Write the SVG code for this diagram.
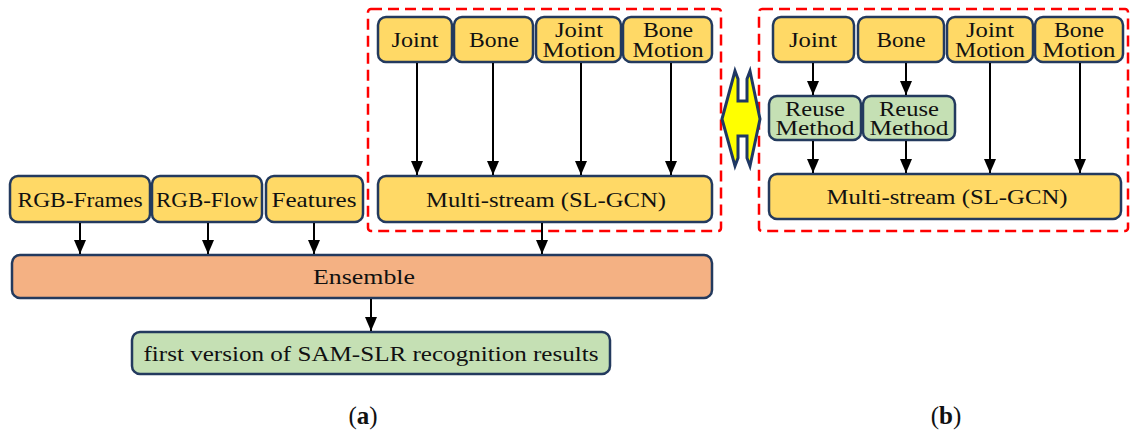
<svg xmlns="http://www.w3.org/2000/svg" width="1131" height="435" viewBox="0 0 1131 435">
<style>
.box{stroke:#233a5e;stroke-width:2.5}
.y{fill:#ffd966}
.o{fill:#f4b183}
.g{fill:#c5e0b4}
.t{font-family:"Liberation Serif","DejaVu Serif",serif;font-size:22px;fill:#111;text-anchor:middle}
.t2{font-family:"Liberation Serif","DejaVu Serif",serif;font-size:21px;fill:#111;text-anchor:middle}
.dash{fill:none;stroke:#f00;stroke-width:2.5;stroke-dasharray:11 6}
.c{stroke:#000;stroke-width:2;fill:none;marker-end:url(#ah)}
.lab{font-family:"Liberation Serif","DejaVu Serif",serif;font-size:25px;fill:#111;text-anchor:middle}
</style>
<defs>
<marker id="ah" markerUnits="userSpaceOnUse" markerWidth="14" markerHeight="12" viewBox="0 0 14 12" refX="14" refY="6" orient="auto">
<path d="M0,0 L14,6 L0,12 Z" fill="#000"/>
</marker>
</defs>
<rect width="1131" height="435" fill="#fff"/>

<g id="groups">
<rect class="dash" x="368" y="9" width="353" height="222" rx="3"/>
<rect class="dash" x="759" y="9" width="369" height="222" rx="3"/>
</g>

<g id="swap">
<path d="M722,119 L735,71 L738,79 L738,101 L747,101 L747,79 L750,71 L760,119 L750,166 L747,158 L747,136 L738,136 L738,158 L735,166 Z" fill="#ffff00" stroke="#1f3864" stroke-width="3" stroke-linejoin="miter"/>
</g>

<g id="a-joint"><rect class="box y" x="378" y="17" width="74" height="45" rx="8"/><text class="t" x="415" y="47" textLength="47" lengthAdjust="spacingAndGlyphs">Joint</text></g>
<g id="a-bone"><rect class="box y" x="454" y="17" width="79" height="45" rx="8"/><text class="t" x="494" y="47" textLength="50" lengthAdjust="spacingAndGlyphs">Bone</text></g>
<g id="a-jm"><rect class="box y" x="536" y="17" width="85" height="45" rx="8"/><text class="t2" x="579" y="37" textLength="48" lengthAdjust="spacingAndGlyphs">Joint</text><text class="t2" x="579" y="57" textLength="73" lengthAdjust="spacingAndGlyphs">Motion</text></g>
<g id="a-bm"><rect class="box y" x="623" y="17" width="89" height="45" rx="8"/><text class="t2" x="668" y="37" textLength="50" lengthAdjust="spacingAndGlyphs">Bone</text><text class="t2" x="668" y="57" textLength="71" lengthAdjust="spacingAndGlyphs">Motion</text></g>
<g id="a-ms"><rect class="box y" x="378" y="176" width="334" height="46" rx="8"/><text class="t" x="546" y="207" textLength="240" lengthAdjust="spacingAndGlyphs">Multi-stream (SL-GCN)</text></g>

<g id="rgbframes"><rect class="box y" x="10" y="176" width="140" height="46" rx="8"/><text class="t" x="80" y="207" textLength="125" lengthAdjust="spacingAndGlyphs">RGB-Frames</text></g>
<g id="rgbflow"><rect class="box y" x="152" y="176" width="110" height="46" rx="8"/><text class="t" x="207" y="207" textLength="102" lengthAdjust="spacingAndGlyphs">RGB-Flow</text></g>
<g id="features"><rect class="box y" x="266" y="176" width="97" height="46" rx="8"/><text class="t" x="314" y="207" textLength="85" lengthAdjust="spacingAndGlyphs">Features</text></g>
<g id="ensemble"><rect class="box o" x="12" y="255" width="700" height="43" rx="8"/><text class="t" x="364" y="284" textLength="102" lengthAdjust="spacingAndGlyphs">Ensemble</text></g>
<g id="result"><rect class="box g" x="132" y="332" width="478" height="42" rx="8"/><text class="t" x="371" y="361" textLength="455" lengthAdjust="spacingAndGlyphs">first version of SAM-SLR recognition results</text></g>

<g id="b-joint"><rect class="box y" x="773" y="17" width="81" height="45" rx="8"/><text class="t" x="813" y="47" textLength="48" lengthAdjust="spacingAndGlyphs">Joint</text></g>
<g id="b-bone"><rect class="box y" x="858" y="17" width="86" height="45" rx="8"/><text class="t" x="901" y="47" textLength="49" lengthAdjust="spacingAndGlyphs">Bone</text></g>
<g id="b-jm"><rect class="box y" x="947" y="17" width="86" height="45" rx="8"/><text class="t2" x="990" y="37" textLength="48" lengthAdjust="spacingAndGlyphs">Joint</text><text class="t2" x="990" y="57" textLength="70" lengthAdjust="spacingAndGlyphs">Motion</text></g>
<g id="b-bm"><rect class="box y" x="1035" y="17" width="88" height="45" rx="8"/><text class="t2" x="1079" y="37" textLength="50" lengthAdjust="spacingAndGlyphs">Bone</text><text class="t2" x="1079" y="57" textLength="73" lengthAdjust="spacingAndGlyphs">Motion</text></g>
<g id="b-reuse1"><rect class="box g" x="769" y="96" width="92" height="44" rx="8"/><text class="t2" x="815" y="116" textLength="60" lengthAdjust="spacingAndGlyphs">Reuse</text><text class="t2" x="815" y="135" textLength="79" lengthAdjust="spacingAndGlyphs">Method</text></g>
<g id="b-reuse2"><rect class="box g" x="863" y="96" width="92" height="44" rx="8"/><text class="t2" x="909" y="116" textLength="60" lengthAdjust="spacingAndGlyphs">Reuse</text><text class="t2" x="909" y="135" textLength="79" lengthAdjust="spacingAndGlyphs">Method</text></g>
<g id="b-ms"><rect class="box y" x="769" y="174" width="352" height="45" rx="8"/><text class="t" x="947" y="204" textLength="241" lengthAdjust="spacingAndGlyphs">Multi-stream (SL-GCN)</text></g>

<g id="connectors">
<line class="c" x1="417" y1="63" x2="417" y2="175"/>
<line class="c" x1="493" y1="63" x2="493" y2="175"/>
<line class="c" x1="581" y1="63" x2="581" y2="175"/>
<line class="c" x1="671" y1="63" x2="671" y2="175"/>
<line class="c" x1="80" y1="223" x2="80" y2="254"/>
<line class="c" x1="208" y1="223" x2="208" y2="254"/>
<line class="c" x1="314" y1="223" x2="314" y2="254"/>
<line class="c" x1="542" y1="223" x2="542" y2="254"/>
<line class="c" x1="371" y1="299" x2="371" y2="331"/>
<line class="c" x1="813" y1="63" x2="813" y2="95"/>
<line class="c" x1="906" y1="63" x2="906" y2="95"/>
<line class="c" x1="813" y1="141" x2="813" y2="173"/>
<line class="c" x1="906" y1="141" x2="906" y2="173"/>
<line class="c" x1="990" y1="63" x2="990" y2="173"/>
<line class="c" x1="1080" y1="63" x2="1080" y2="173"/>
</g>

<g id="captions">
<text class="lab" x="363" y="424">(<tspan font-weight="bold">a</tspan>)</text>
<text class="lab" x="946" y="424">(<tspan font-weight="bold">b</tspan>)</text>
</g>
</svg>
